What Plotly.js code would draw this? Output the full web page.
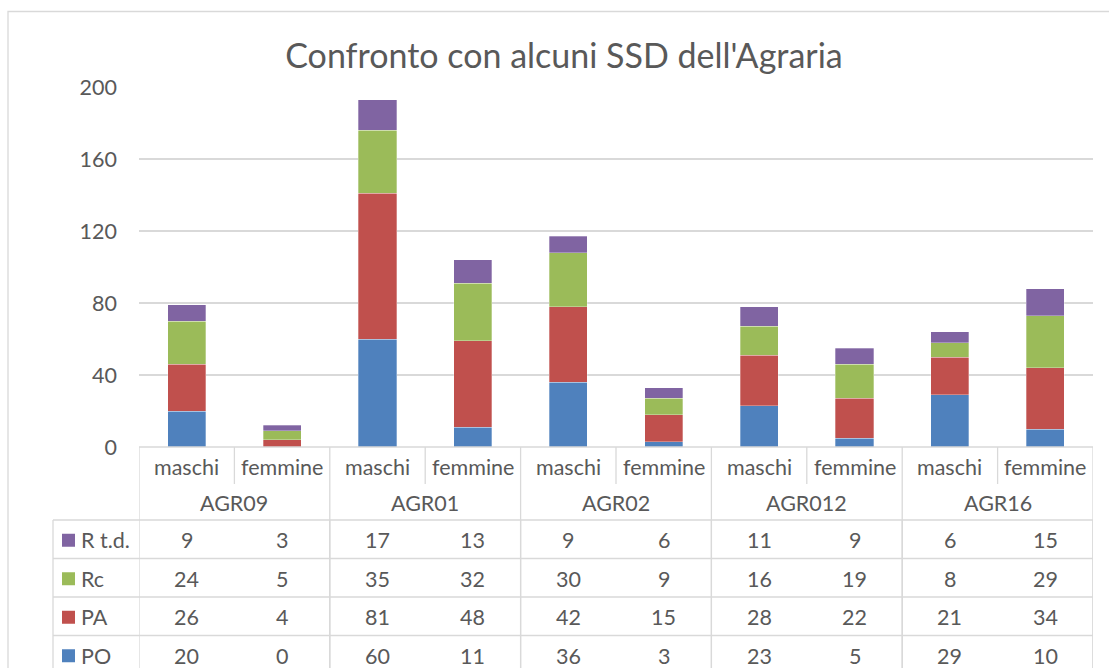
<!DOCTYPE html>
<html>
<head>
<meta charset="utf-8">
<script src="https://cdn.plot.ly/plotly-3.0.1.min.js"></script>
<style>
html,body{margin:0;padding:0;background:#fff;}
#chart{width:1109px;height:668px;}
</style>
</head>
<body>
<div id="chart"></div>
<script>
// ---- data ----
var groups = ["AGR09", "AGR01", "AGR02", "AGR012", "AGR16"];
var genders = ["maschi", "femmine"];
var seriesNames = ["PO", "PA", "Rc", "R t.d."];
var PO  = [20, 0, 60, 11, 36, 3, 23, 5, 29, 10];
var PA  = [26, 4, 81, 48, 42, 15, 28, 22, 21, 34];
var Rc  = [24, 5, 35, 32, 30, 9, 16, 19, 8, 29];
var Rtd = [9, 3, 17, 13, 9, 6, 11, 9, 6, 15];
var yTicks = [0, 40, 80, 120, 160, 200];

var colors = ["#4f81bd", "#c0504d", "#9bbb59", "#8064a2"];
var seriesValues = [PO, PA, Rc, Rtd];

// categories
var cats = [];
groups.forEach(function (g) { genders.forEach(function (s) { cats.push(g + " " + s); }); });

var W = 1109, H = 668;
function px(x) { return x / W; }
function py(y) { return 1 - y / H; }

var traces = seriesNames.map(function (n, i) {
  return {
    type: "bar", name: n, x: cats, y: seriesValues[i],
    marker: { color: colors[i], line: { color: "rgba(255,255,255,0.5)", width: 0.6 } },
    width: 0.4, hoverinfo: "x+y+name"
  };
});

var fontFam = "Lato, 'Open Sans', sans-serif";
var txtCol = "#595959";
var lineCol = "#d9d9d9";

var shapes = [];
var annotations = [];
function hline(x0, x1, y, xref) {
  shapes.push({ type: "line", xref: xref || "paper", yref: "paper", x0: x0, x1: x1, y0: py(y), y1: py(y), line: { color: lineCol, width: 1.3 } });
}
function vline(x, y0, y1, xref) {
  shapes.push({ type: "line", xref: xref || "paper", yref: "paper", x0: x, x1: x, y0: py(y0), y1: py(y1), line: { color: lineCol, width: 1.3 } });
}

// chart border
shapes.push({ type: "rect", xref: "paper", yref: "paper", x0: px(8), x1: px(1112), y0: py(672), y1: py(11.5), line: { color: lineCol, width: 1.3 }, fillcolor: "rgba(0,0,0,0)", layer: "below" });

var rowTop = 447, rowG = 484, rowData0 = 520, rowH = 38.5;
var nCat = cats.length;
// axis line
hline(-0.5, nCat - 0.5, rowTop, "x");
// gender separators (only first row)
for (var i = 0; i < nCat; i += 2) {
  vline(i + 0.5, rowTop, rowG, "x");
}
// group separators, full height
for (var k = 0; k <= nCat; k += 2) {
  vline(k - 0.5, rowTop, 672, "x");
}
// data row vertical separators
for (var i = 1; i < nCat; i += 2) {
  vline(i + 0.5, rowData0, 672, "x");
}
// left legend column
vline(px(53), rowData0, 672);
// horizontal data row lines
for (var r = 0; r < 4; r++) {
  var y = rowData0 + r * rowH;
  shapes.push({ type: "line", xref: "paper", yref: "paper", x0: px(53), x1: px(139), y0: py(y), y1: py(y), line: { color: lineCol, width: 1.3 } });
  hline(-0.5, nCat - 0.5, y, "x");
}

var fs = 21.5;
// gender labels
cats.forEach(function (c, i) {
  annotations.push({ x: cats[i], xref: "x", y: py((rowTop + rowG) / 2 + 1), yref: "paper", text: genders[i % 2], showarrow: false, font: { family: fontFam, size: fs, color: txtCol }, xanchor: "center", yanchor: "middle" });
});
// group labels
groups.forEach(function (g, j) {
  annotations.push({ x: 2 * j + 0.5, xref: "x", y: py((rowG + rowData0) / 2 + 1), yref: "paper", text: g, showarrow: false, font: { family: fontFam, size: fs, color: txtCol }, xanchor: "center", yanchor: "middle" });
});
// data rows: order top to bottom R t.d., Rc, PA, PO
var order = [3, 2, 1, 0];
order.forEach(function (si, r) {
  var yc = rowData0 + r * rowH + rowH / 2 + 1;
  // legend key
  shapes.push({ type: "rect", xref: "paper", yref: "paper", x0: px(62), x1: px(75), y0: py(yc + 6.5), y1: py(yc - 6.5), fillcolor: colors[si], line: { width: 0 } });
  annotations.push({ x: px(79), xref: "paper", y: py(yc), yref: "paper", text: seriesNames[si], showarrow: false, font: { family: fontFam, size: fs, color: txtCol }, xanchor: "left", yanchor: "middle" });
  seriesValues[si].forEach(function (v, i) {
    annotations.push({ x: cats[i], xref: "x", y: py(yc), yref: "paper", text: String(v), showarrow: false, font: { family: fontFam, size: fs, color: txtCol }, xanchor: "center", yanchor: "middle" });
  });
});

var layout = {
  width: W, height: H,
  margin: { l: 0, r: 0, t: 0, b: 0 },
  paper_bgcolor: "#fff", plot_bgcolor: "#fff",
  barmode: "stack",
  showlegend: false,
  title: { text: "Confronto con alcuni SSD dell'Agraria", x: px(564), xanchor: "center", y: py(56), yanchor: "middle", font: { family: fontFam, size: 34, color: txtCol } },
  xaxis: { domain: [px(139), px(1093)], type: "category", range: [-0.5, nCat - 0.5], showticklabels: false, showgrid: false, zeroline: false, showline: false, ticks: "", fixedrange: true },
  yaxis: { domain: [py(447), py(87)], range: [0, 200], tickvals: yTicks, ticktext: yTicks.map(String), showgrid: true, gridcolor: lineCol, gridwidth: 1.3, zeroline: false, showline: false, ticks: "", ticklabelstandoff: 21, tickfont: { family: fontFam, size: fs, color: txtCol }, fixedrange: true },
  shapes: shapes,
  annotations: annotations,
  font: { family: fontFam }
};

Plotly.newPlot("chart", traces, layout, { displayModeBar: false, staticPlot: true });
</script>
</body>
</html>
